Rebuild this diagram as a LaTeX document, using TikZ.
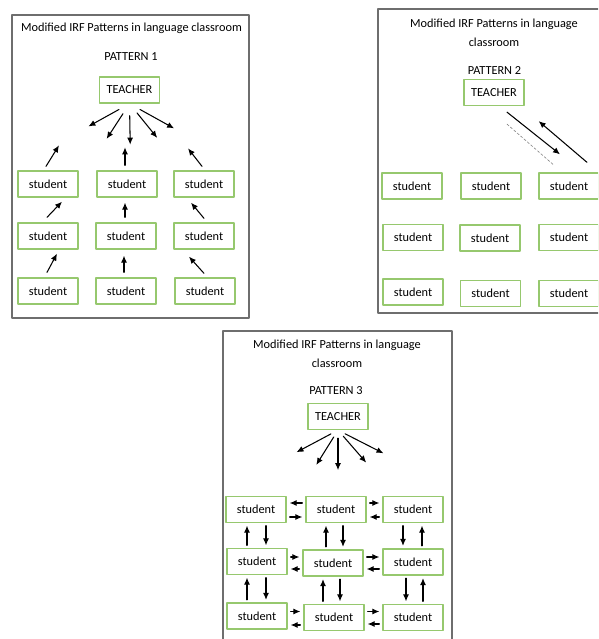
\documentclass[tikz,border=0pt]{standalone}
\usepackage{fontspec}
\setmainfont{Carlito}
\usepackage{tikz}
\usetikzlibrary{arrows.meta}
\usetikzlibrary{calc}

\definecolor{boxgreen}{RGB}{150,200,110}
\definecolor{framegray}{RGB}{110,110,110}

\begin{document}
\begin{tikzpicture}[x=1pt,y=-1pt,line cap=round,line join=round,
  pupil/.style={draw=boxgreen,line width=1.3pt,minimum width=60pt,minimum height=26pt,inner sep=0pt,font=\fontsize{12.3}{13}\selectfont},
  panel/.style={draw=framegray,line width=1.1pt},
  caption/.style={align=center,font=\fontsize{12.3}{19}\selectfont},
  arr/.style={-{Latex[length=7pt,width=6pt]},line width=1.05pt,color=black},
  hs/.style={shorten <=3pt,shorten >=3pt},
  vs/.style={shorten <=2.5pt,shorten >=2.5pt}]
\clip (0,0) rectangle (598,639);
\fill[white] (0,0) rectangle (598,639);
% \draw[step=20,gray,very thin] (0,0) grid (598,639);

% frames
\draw[panel] (12,15) rectangle (249,318);
\draw[panel] (378,9) rectangle (610,313);
\draw[panel] (223,331) rectangle (452,650);

%%%%% PATTERN 1
\node[caption] (h1) at (131.5,28) {Modified IRF Patterns in language classroom};
\node[caption] (p1) at (131,57) {PATTERN 1};
\node[pupil] (t1) at (129.5,90) {TEACHER};

\node[pupil] (a11) at (48,184) {student};
\node[pupil] (a12) at (127,184) {student};
\node[pupil] (a13) at (204,184) {student};
\node[pupil] (a21) at (48,236) {student};
\node[pupil] (a22) at (126,236) {student};
\node[pupil] (a23) at (204,236) {student};
\node[pupil] (a31) at (48,291) {student};
\node[pupil] (a32) at (126,291) {student};
\node[pupil] (a33) at (205,291) {student};

\foreach \a/\r in {151/47,123/42,89/41,51/44,29/51}
  \draw[arr] (t1.south) ++(\a:12) -- ($(t1.south)+(\a:\r)$);

\draw[arr] ([shift={(-2,-4)}]a11.north) -- ++(13,-21);
\draw[arr] ([shift={(-2,-5)}]a12.north) -- ++(0,-18);
\draw[arr] ([shift={(-2,-4)}]a13.north) -- ++(-14,-18);

\draw[arr] ([shift={(-1,-5)}]a21.north) -- ([shift={(14,4)}]a11.south);
\draw[arr,shorten <=5pt,shorten >=5pt] ([shift={(-1,0)}]a22.north) -- ([shift={(-1,0)}]a22.north |- a12.south);
\draw[arr] ([shift={(0,-4)}]a23.north) -- ([shift={(-13,5)}]a13.south);

\draw[arr] ([shift={(-1,-5)}]a31.north) -- ([shift={(9,4)}]a21.south);
\draw[arr,shorten <=5pt,shorten >=6pt] ([shift={(-2,0)}]a32.north) -- ([shift={(-2,0)}]a32.north |- a22.south);
\draw[arr] ([shift={(-1,-4)}]a33.north) -- ([shift={(-15,7)}]a23.south);

%%%%% PATTERN 2
\node[caption] (h2) at (494,32.5) {Modified IRF Patterns in language\\classroom};
\node[caption] (p2) at (494.5,71) {PATTERN 2};
\node[pupil] (t2) at (494,92.5) {TEACHER};

\node[pupil] (b11) at (412,186) {student};
\node[pupil] (b12) at (491,186) {student};
\node[pupil] (b13) at (569,186) {student};
\node[pupil] (b21) at (413,237.5) {student};
\node[pupil] (b22) at (490,238) {student};
\node[pupil] (b23) at (569,237.5) {student};
\node[pupil] (b31) at (413,292) {student};
\node[pupil] (b32) at (490.5,293.5) {student};
\node[pupil] (b33) at (569,293.5) {student};

\draw[arr] ([shift={(13,6)}]t2.south) -- ([shift={(-9,-18)}]b13.north);
\draw[line width=.6pt,color=gray,dash pattern=on 2.5pt off 2pt] ([shift={(13,18)}]t2.south) -- ([shift={(-16,-8)}]b13.north);
\draw[arr] ([shift={(18,-10)}]b13.north) -- ([shift={(14,15)}]t2.south east);

%%%%% PATTERN 3
\node[caption] (h3) at (337,354) {Modified IRF Patterns in language\\classroom};
\node[caption] (p3) at (336,391) {PATTERN 3};
\node[pupil] (t3) at (338,416.5) {TEACHER};

\node[pupil] (c11) at (256,509.5) {student};
\node[pupil] (c12) at (336,509.5) {student};
\node[pupil] (c13) at (413,509.5) {student};
\node[pupil] (c21) at (257,561.5) {student};
\node[pupil] (c22) at (333,563) {student};
\node[pupil] (c23) at (413,562) {student};
\node[pupil] (c31) at (257,616) {student};
\node[pupil] (c32) at (334,617.5) {student};
\node[pupil] (c33) at (413,617.5) {student};

\foreach \a/\r in {152/47,122/41,90/40,49/43,27/51}
  \draw[arr] (t3.south) ++(\a:8) -- ($(t3.south)+(\a:\r)$);

% across
\draw[arr,hs] ([shift={(0,-6.5)}]c12.west) -- ([shift={(0,-6.5)}]c12.west -| c11.east);
\draw[arr,hs] ([shift={(0,7.5)}]c11.east) -- ([shift={(0,7.5)}]c11.east -| c12.west);
\draw[arr,hs] ([shift={(0,-6.5)}]c12.east) -- ([shift={(0,-6.5)}]c12.east -| c13.west);
\draw[arr,hs] ([shift={(0,7.5)}]c13.west) -- ([shift={(0,7.5)}]c13.west -| c12.east);

\draw[arr,hs] ([shift={(0,-4.5)}]c21.east) -- ([shift={(0,-4.5)}]c21.east -| c22.west);
\draw[arr,hs] ([shift={(0,6)}]c22.west) -- ([shift={(0,6)}]c22.west -| c21.east);
\draw[arr,hs] ([shift={(0,-6)}]c22.east) -- ([shift={(0,-6)}]c22.east -| c23.west);
\draw[arr,hs] ([shift={(0,7)}]c23.west) -- ([shift={(0,7)}]c23.west -| c22.east);

\draw[arr,hs] ([shift={(0,-4.5)}]c31.east) -- ([shift={(0,-4.5)}]c31.east -| c32.west);
\draw[arr,hs] ([shift={(0,7.5)}]c32.west) -- ([shift={(0,7.5)}]c32.west -| c31.east);
\draw[arr,hs] ([shift={(0,-6)}]c32.east) -- ([shift={(0,-6)}]c32.east -| c33.west);
\draw[arr,hs] ([shift={(0,6.5)}]c33.west) -- ([shift={(0,6.5)}]c33.west -| c32.east);

% up and down
\draw[arr,vs] ([shift={(-10,0)}]c21.north) -- ([shift={(-10,0)}]c21.north |- c11.south);
\draw[arr,vs] ([shift={(10,0)}]c11.south) -- ([shift={(10,0)}]c11.south |- c21.north);
\draw[arr,vs] ([shift={(-7,0)}]c22.north) -- ([shift={(-7,0)}]c22.north |- c12.south);
\draw[arr,vs] ([shift={(7,0)}]c12.south) -- ([shift={(7,0)}]c12.south |- c22.north);
\draw[arr,vs] ([shift={(-10,0)}]c13.south) -- ([shift={(-10,0)}]c13.south |- c23.north);
\draw[arr,vs] ([shift={(9,0)}]c23.north) -- ([shift={(9,0)}]c23.north |- c13.south);

\draw[arr,vs] ([shift={(-10,0)}]c31.north) -- ([shift={(-10,0)}]c31.north |- c21.south);
\draw[arr,vs] ([shift={(9,0)}]c21.south) -- ([shift={(9,0)}]c21.south |- c31.north);
\draw[arr,vs] ([shift={(-11,0)}]c32.north) -- ([shift={(-11,0)}]c32.north |- c22.south);
\draw[arr,vs] ([shift={(7,0)}]c22.south) -- ([shift={(7,0)}]c22.south |- c32.north);
\draw[arr,vs] ([shift={(-7,0)}]c23.south) -- ([shift={(-7,0)}]c23.south |- c33.north);
\draw[arr,vs] ([shift={(10,0)}]c33.north) -- ([shift={(10,0)}]c33.north |- c23.south);
\end{tikzpicture}
\end{document}
